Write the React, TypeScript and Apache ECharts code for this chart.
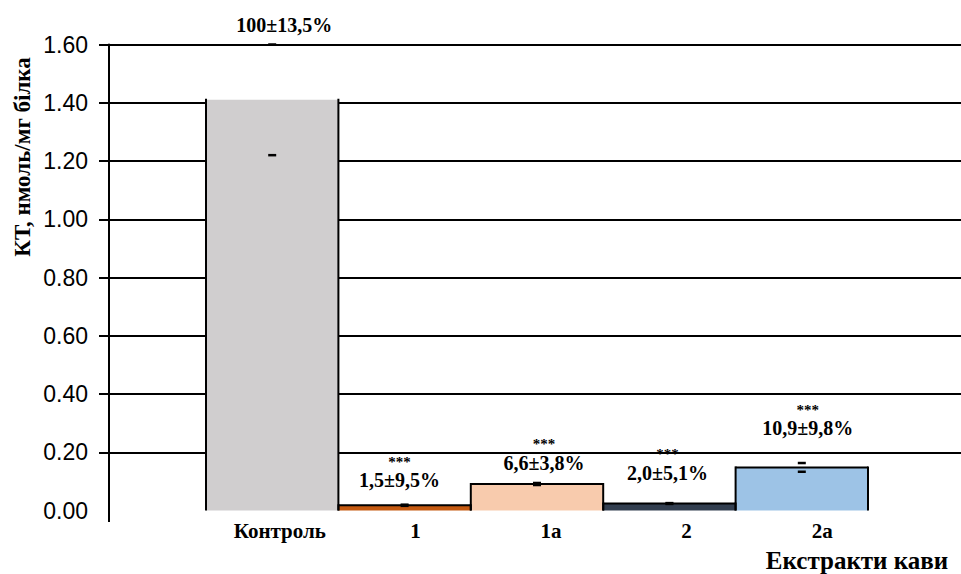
import React, { useEffect, useRef } from "react";
import * as echarts from "echarts";

// ---- data ----
const categories = ["Контроль", "1", "1a", "2", "2a"];
const values = [1.41, 0.018, 0.091, 0.024, 0.148];
const errors = [0.19, 0.002, 0.0035, 0.0014, 0.015];
const pctLabels = ["100±13,5%", "1,5±9,5%", "6,6±3,8%", "2,0±5,1%", "10,9±9,8%"];
const stars = ["", "***", "***", "***", "***"];
const yTicks = { min: 0, max: 1.6, interval: 0.2 };

// ---- styling (not data) ----
const barColors = ["#D0CECF", "#C55A11", "#F8CBAD", "#333F50", "#9DC3E6"];
const topBorder = [false, true, true, true, true];
const labelOffsets: [number, number][] = [
  [12, -64],
  [-5, -14],
  [7, -10],
  [-2, -20],
  [6, -28],
];

const SERIF = '"Liberation Serif", "Times New Roman", serif';
const SANS = '"Liberation Sans", Arial, sans-serif';

export default function App() {
  const ref = useRef<HTMLDivElement>(null);
  useEffect(() => {
    if (!ref.current) return;
    const chart = echarts.init(ref.current, undefined, { renderer: "svg" });
    const gridTop = 44.5;
    const gridBottom = 63.5;

    const barData = values.map((v, i) => ({
      value: v,
      itemStyle: { color: barColors[i] },
      label: {
        show: true,
        position: "top",
        distance: 0,
        offset: labelOffsets[i],
        formatter: () =>
          stars[i] ? `{s|${stars[i]}}\n{t|${pctLabels[i]}}` : `{t|${pctLabels[i]}}`,
        rich: {
          s: { fontFamily: SERIF, fontWeight: "bold", fontSize: 15, lineHeight: 14, color: "#000", verticalAlign: "bottom" },
          t: { fontFamily: SERIF, fontWeight: "bold", fontSize: 20, lineHeight: 22, color: "#000" },
        },
      },
    }));

    const option: any = {
      animation: false,
      backgroundColor: "#fff",
      grid: [
        { left: 99, right: 0, top: gridTop, bottom: gridBottom },
        { left: 206, right: 93, top: gridTop, bottom: gridBottom },
        { left: 212, right: 71, top: gridTop, bottom: gridBottom },
      ],
      xAxis: [
        { type: "value", gridIndex: 0, show: false, min: 0, max: 1 },
        {
          type: "category",
          gridIndex: 1,
          data: categories,
          axisLine: { show: false },
          axisTick: { show: false },
          axisLabel: { show: false },
        },
        {
          type: "category",
          gridIndex: 2,
          data: categories,
          axisLine: { show: false },
          axisTick: { show: false },
          axisLabel: {
            margin: 10,
            fontFamily: SERIF,
            fontWeight: "bold",
            fontSize: 21,
            color: "#000",
          },
        },
      ],
      yAxis: [
        {
          type: "value",
          gridIndex: 0,
          min: yTicks.min,
          max: yTicks.max,
          interval: yTicks.interval,
          offset: -10,
          axisLine: { show: true, lineStyle: { color: "#000", width: 2 } },
          axisTick: { show: false },
          axisLabel: {
            margin: 21,
            fontFamily: SANS,
            fontSize: 23,
            color: "#000",
            formatter: (v: number) => v.toFixed(2),
          },
          splitLine: { show: true, showMinLine: false, lineStyle: { color: "#000", width: 2 } },
        },
        { type: "value", gridIndex: 1, min: yTicks.min, max: yTicks.max, show: false },
        { type: "value", gridIndex: 2, min: yTicks.min, max: yTicks.max, show: false },
      ],
      series: [
        {
          type: "bar",
          xAxisIndex: 1,
          yAxisIndex: 1,
          barWidth: "100%",
          data: barData,
          z: 2,
        },
        {
          type: "custom",
          xAxisIndex: 1,
          yAxisIndex: 1,
          z: 3,
          data: values.map((v, i) => [i, v, errors[i]]),
          renderItem: (params: any, api: any) => {
            const i = api.value(0);
            const v = api.value(1);
            const e = api.value(2);
            const top = api.coord([i, v]);
            const base = api.coord([i, 0]);
            const w = api.size([1, 0])[0];
            const l = top[0] - w / 2;
            const r = top[0] + w / 2;
            const st = { stroke: "#000", lineWidth: 2 };
            const children: any[] = [
              { type: "line", shape: { x1: l, y1: top[1] - 1, x2: l, y2: base[1] }, style: st },
              { type: "line", shape: { x1: r, y1: top[1] - 1, x2: r, y2: base[1] }, style: st },
            ];
            if (topBorder[i]) {
              children.push({ type: "line", shape: { x1: l, y1: top[1], x2: r, y2: top[1] }, style: st });
            }
            if (e > 0) {
              const yu = api.coord([i, v + e])[1];
              const yl = api.coord([i, v - e])[1];
              const cs = { stroke: "#000", lineWidth: 2.5 };
              children.push({ type: "line", shape: { x1: top[0] - 4, y1: yu, x2: top[0] + 4, y2: yu }, style: cs });
              children.push({ type: "line", shape: { x1: top[0] - 4, y1: yl, x2: top[0] + 4, y2: yl }, style: cs });
            }
            return { type: "group", children };
          },
        },
      ],
      graphic: [
        {
          type: "line",
          shape: { x1: 109, y1: 510, x2: 109, y2: 522 },
          style: { stroke: "#000", lineWidth: 2 },
        },
        {
          type: "text",
          x: 22,
          y: 157,
          rotation: Math.PI / 2,
          style: {
            text: "КТ, нмоль/мг білка",
            fontFamily: SERIF,
            fontWeight: "bold",
            fontSize: 23,
            fill: "#000",
            align: "center",
            verticalAlign: "middle",
          },
        },
        {
          type: "text",
          x: 857,
          y: 560,
          style: {
            text: "Екстракти кави",
            fontFamily: SERIF,
            fontWeight: "bold",
            fontSize: 25,
            fill: "#000",
            align: "center",
            verticalAlign: "middle",
          },
        },
      ],
    };
    chart.setOption(option);
    return () => chart.dispose();
  }, []);
  return (
    <div
      ref={ref}
      style={{ position: "fixed", left: 0, top: 0, width: 961, height: 574 }}
    />
  );
}
